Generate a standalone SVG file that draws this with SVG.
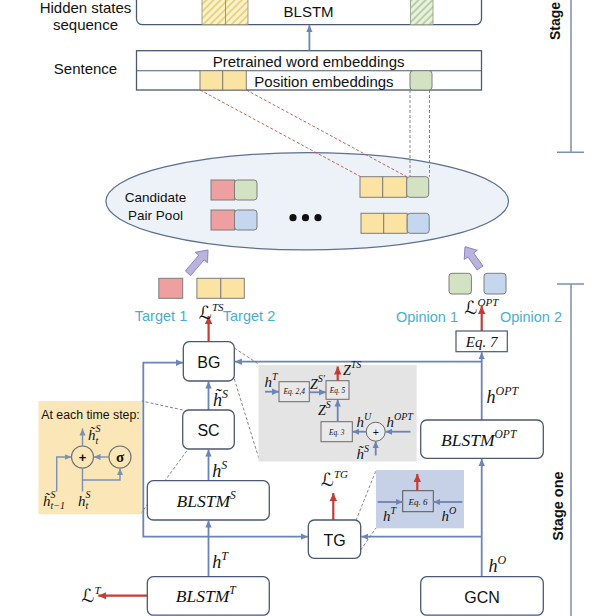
<svg xmlns="http://www.w3.org/2000/svg" width="615" height="616" viewBox="0 0 615 616">
<defs>
<style>
.box{fill:#fff;stroke:#4b5872;stroke-width:1.3}
.lbl{font-family:"Liberation Sans",Arial,sans-serif;fill:#111}
.m{font-family:"Liberation Serif","DejaVu Serif",serif;font-style:italic;fill:#111}
.cal{font-family:"DejaVu Serif","DejaVu Sans",serif;font-style:italic}
.con{fill:none;stroke:#6b84b6;stroke-width:1.8}
.thin{fill:none;stroke:#7f8fb2;stroke-width:1.4}
.red{fill:none;stroke:#c43d35;stroke-width:2.2}
.cell{stroke:#7d7d7d;stroke-width:1}
.cy{fill:#fbe4a3}
.cr{fill:#ee9f9f}
.cg{fill:#d3e2c3}
.cb{fill:#c4d7ef}
.dash{fill:none;stroke:#777;stroke-width:0.9;stroke-dasharray:3 2}
.rdash{fill:none;stroke:#c0504d;stroke-width:0.9;stroke-dasharray:3 2}
.tg{font-family:"Liberation Sans",Arial,sans-serif;fill:#4aaed0;font-size:14.5px}
.eqb{fill:#e9e9e9;stroke:#6a6a6a;stroke-width:1}
.stage{fill:none;stroke:#7d8fb5;stroke-width:1.5}
</style>
<marker id="ab" markerUnits="userSpaceOnUse" markerWidth="8" markerHeight="8" refX="7" refY="4" orient="auto"><path d="M0,0.8 L7,4 L0,7.2 Z" fill="#6b84b6"/></marker>
<marker id="ag" markerUnits="userSpaceOnUse" markerWidth="8" markerHeight="8" refX="7" refY="4" orient="auto"><path d="M0,1 L7,4 L0,7 Z" fill="#7f8fb2"/></marker>
<marker id="ar" markerUnits="userSpaceOnUse" markerWidth="9" markerHeight="9" refX="8" refY="4.5" orient="auto"><path d="M0,0.8 L8,4.5 L0,8.2 Z" fill="#c43d35"/></marker>
<pattern id="hy" patternUnits="userSpaceOnUse" width="5" height="5" patternTransform="rotate(45)"><rect width="5" height="5" fill="#fdf2cc"/><line x1="1" y1="0" x2="1" y2="5" stroke="#e0c25a" stroke-width="1.3"/></pattern>
<pattern id="hg" patternUnits="userSpaceOnUse" width="5" height="5" patternTransform="rotate(45)"><rect width="5" height="5" fill="#e9f1e0"/><line x1="1" y1="0" x2="1" y2="5" stroke="#9fbf85" stroke-width="1.3"/></pattern>
</defs>

<!-- stage markers -->
<g id="stage-two">
<path class="stage" d="M571,0 V152.3 M557,152.3 H584"/>
<text class="lbl" font-size="14" font-weight="bold" transform="translate(560,40) rotate(-90)">Stage</text>
</g>
<g id="stage-one">
<path class="stage" d="M571,616 V284 M557,284 H584"/>
<text class="lbl" font-size="14.5" font-weight="bold" text-anchor="middle" transform="translate(563,506) rotate(-90)">Stage one</text>
</g>

<!-- top labels -->
<g id="label-hidden">
<text class="lbl" x="85.5" y="12.5" font-size="15" text-anchor="middle">Hidden states</text>
<text class="lbl" x="85.5" y="30" font-size="15" text-anchor="middle">sequence</text>
</g>
<g id="label-sentence">
<text class="lbl" x="85.5" y="74" font-size="15" text-anchor="middle">Sentence</text>
</g>

<g id="blstm-top">
<rect class="box" x="136.5" y="-12" width="345" height="36.7" rx="6"/>
<rect x="202" y="-12" width="23.5" height="36.7" fill="url(#hy)" stroke="#8a8a70" stroke-width="0.8"/>
<rect x="225.5" y="-12" width="22.5" height="36.7" fill="url(#hy)" stroke="#8a8a70" stroke-width="0.8"/>
<rect x="410.6" y="-12" width="22.4" height="36.7" fill="url(#hg)" stroke="#8a9a80" stroke-width="0.8"/>
<text class="lbl" x="308.6" y="16.5" font-size="15" text-anchor="middle">BLSTM</text>
</g>

<g id="sentence">
<rect class="box" x="136.5" y="50.7" width="345" height="39.3"/>
<line x1="136.5" y1="70.7" x2="481.5" y2="70.7" stroke="#4b5872" stroke-width="1.1"/>
<rect class="cell cy" x="200" y="70.7" width="22.7" height="19.3"/>
<rect class="cell cy" x="222.7" y="70.7" width="23.6" height="19.3"/>
<rect class="cell cg" x="410" y="70.7" width="22" height="19.3" rx="3"/>
<text class="lbl" x="308.6" y="66.5" font-size="15" text-anchor="middle">Pretrained word embeddings</text>
<text class="lbl" x="324" y="87" font-size="15" text-anchor="middle">Position embeddings</text>
</g>

<g id="pool">
<ellipse cx="307.2" cy="201.3" rx="201.3" ry="48.6" fill="#edf1f8" stroke="#5f6f8f" stroke-width="1.2"/>
<text class="lbl" x="155.5" y="202" font-size="13.5" text-anchor="middle">Candidate</text>
<text class="lbl" x="155.5" y="220" font-size="13.5" text-anchor="middle">Pair Pool</text>
<rect class="cell cr" x="211" y="180" width="23.5" height="20"/>
<rect class="cell cg" x="234.5" y="180" width="22.5" height="20" rx="3"/>
<rect class="cell cr" x="211" y="210" width="23.5" height="20"/>
<rect class="cell cb" x="234.5" y="210" width="22.5" height="20" rx="3"/>
<circle cx="293" cy="217.7" r="3.6" fill="#111"/>
<circle cx="305.5" cy="217.7" r="3.6" fill="#111"/>
<circle cx="318" cy="217.7" r="3.6" fill="#111"/>
<rect class="cell cy" x="360" y="176.7" width="22.7" height="20.6"/>
<rect class="cell cy" x="382.7" y="176.7" width="24" height="20.6"/>
<rect class="cell cg" x="406.7" y="176.7" width="22" height="20.6" rx="3"/>
<rect class="cell cy" x="361" y="213.3" width="22.7" height="20"/>
<rect class="cell cy" x="383.7" y="213.3" width="23.5" height="20"/>
<rect class="cell cb" x="407.2" y="213.3" width="22" height="20" rx="3"/>
</g>

<g id="targets">
<rect class="cell cr" x="158.8" y="278.3" width="23.9" height="20"/>
<rect class="cell cy" x="196.9" y="278.3" width="23.9" height="20"/>
<rect class="cell cy" x="220.8" y="278.3" width="23.5" height="20"/>
<text class="tg" x="161" y="321" text-anchor="middle">Target 1</text>
<text class="tg" x="249" y="321" text-anchor="middle">Target 2</text>
<polygon points="190.6,275.6 204.1,259.8 207.5,262.8 208,250 195.4,252.3 198.8,255.2 185.4,271" fill="#b9b3dd" stroke="#8a86b8" stroke-width="1"/>
</g>

<g id="opinions">
<rect class="cell cg" x="449" y="273.3" width="22.4" height="20.7" rx="3"/>
<rect class="cell cb" x="484" y="273.3" width="22" height="20.7" rx="3"/>
<text class="tg" x="427" y="322" text-anchor="middle">Opinion 1</text>
<text class="tg" x="531" y="322" text-anchor="middle">Opinion 2</text>
<polygon points="482.9,266 473.6,252.9 477.3,250.3 465,246.7 464.2,259.5 467.9,256.9 477.1,270" fill="#b9b3dd" stroke="#8a86b8" stroke-width="1"/>
</g>

<!-- connectors -->
<g id="connectors">
<path class="con" d="M309.4,50.7 V25.2" marker-end="url(#ab)"/>
<path class="rdash" d="M200,90 L360.8,176.7 M246.3,90 L406.7,176.7"/>
<path class="dash" d="M410,90 V176.7 M429.5,90 V176.7"/>
<path class="con" d="M208.5,576.7 V520.6" marker-end="url(#ab)"/>
<path class="con" d="M208.5,536.7 H307.8" marker-end="url(#ab)"/>
<path class="con" d="M208.5,536.7 H143.3 V362.7 H183" marker-end="url(#ab)"/>
<path class="con" d="M208.5,480.7 V449.6" marker-end="url(#ab)"/>
<path class="con" d="M208.5,410 V381.6" marker-end="url(#ab)"/>
<path class="con" d="M481.7,576.7 V459" marker-end="url(#ab)"/>
<path class="con" d="M481.7,536.7 H361.3" marker-end="url(#ab)"/>
<path class="con" d="M481.7,420 V352.3" marker-end="url(#ab)"/>
<path class="con" d="M481.7,361.7 H234.9" marker-end="url(#ab)"/>
<path class="red" d="M208.6,341.7 V316" marker-end="url(#ar)"/>
<path class="red" d="M481.7,331 V306" marker-end="url(#ar)"/>
<path class="red" d="M333.3,520 V493" marker-end="url(#ar)"/>
<path class="red" d="M147.3,595.7 H98.3" marker-end="url(#ar)"/>
<path class="dash" d="M234.3,348 L258.5,364 M234.3,379 L259.5,460.5"/>
<path class="dash" d="M182.7,410 L141.7,401 M186.7,451 L140.5,514"/>
<path class="dash" d="M356,520.5 L376,470.5 M360.7,550 L376,528"/>
</g>

<!-- connector labels -->
<g id="edge-labels">
<text class="m" x="199" y="319" font-size="18"><tspan class="cal">ℒ</tspan><tspan font-size="11" dy="-8">TS</tspan></text>
<text class="m" x="464.5" y="313.5" font-size="18"><tspan class="cal">ℒ</tspan><tspan font-size="11" dy="-8">OPT</tspan></text>
<text class="m" x="321" y="486" font-size="18"><tspan class="cal">ℒ</tspan><tspan font-size="11" dy="-8">TG</tspan></text>
<text class="m" x="81.5" y="602" font-size="18"><tspan class="cal">ℒ</tspan><tspan font-size="11" dy="-8">T</tspan></text>
<text class="m" x="213" y="406" font-size="18">h&#x303;<tspan font-size="12" dy="-8">S</tspan></text>
<text class="m" x="212.3" y="477" font-size="18">h<tspan font-size="12" dy="-8">S</tspan></text>
<text class="m" x="212.3" y="568.3" font-size="18">h<tspan font-size="12" dy="-8">T</tspan></text>
<text class="m" x="488.5" y="571.7" font-size="18">h<tspan font-size="12" dy="-8">O</tspan></text>
<text class="m" x="486.5" y="403.3" font-size="18">h<tspan font-size="12" dy="-8">OPT</tspan></text>
</g>

<g id="BG">
<rect class="box" x="183.3" y="341.7" width="51" height="39.3" rx="6"/>
<text class="lbl" x="208.8" y="368.3" font-size="16" text-anchor="middle">BG</text>
</g>
<g id="SC">
<rect class="box" x="182.7" y="410" width="51.6" height="39" rx="6"/>
<text class="lbl" x="208.5" y="436" font-size="16" text-anchor="middle">SC</text>
</g>
<g id="TG">
<rect class="box" x="308.3" y="520" width="52.4" height="38.3" rx="6"/>
<text class="lbl" x="334.5" y="546" font-size="16" text-anchor="middle">TG</text>
</g>
<g id="GCN">
<rect class="box" x="420.7" y="576.7" width="122.6" height="38.5" rx="6"/>
<text class="lbl" x="482" y="602.5" font-size="16" text-anchor="middle">GCN</text>
</g>
<g id="BLSTM-S">
<rect class="box" x="147.3" y="480.7" width="122" height="39.3" rx="6"/>
<text class="m" x="206.2" y="506.7" font-size="17.5" text-anchor="middle">BLSTM<tspan font-size="11.5" dy="-8">S</tspan></text>
</g>
<g id="BLSTM-T">
<rect class="box" x="147.3" y="576.7" width="122" height="38.5" rx="6"/>
<text class="m" x="205.8" y="601.7" font-size="17.5" text-anchor="middle">BLSTM<tspan font-size="11.5" dy="-8">T</tspan></text>
</g>
<g id="BLSTM-OPT">
<rect class="box" x="420.7" y="420" width="122.6" height="38.3" rx="6"/>
<text class="m" x="478.7" y="446" font-size="17.5" text-anchor="middle">BLSTM<tspan font-size="11.5" dy="-8">OPT</tspan></text>
</g>
<g id="Eq7">
<rect x="456" y="331" width="51.3" height="20.7" fill="#fff" stroke="#4b5872" stroke-width="1.2"/>
<text class="m" x="481.7" y="346.7" font-size="15" text-anchor="middle">Eq. 7</text>
</g>

<!-- SC detail -->
<g id="sc-detail">
<rect x="38.5" y="401" width="103.2" height="113.3" fill="#fae6b6"/>
<text class="lbl" x="90.5" y="419" font-size="12.3" text-anchor="middle">At each time step:</text>
<circle cx="82.5" cy="457" r="11" fill="#fae6b6" stroke="#6e6e6e" stroke-width="1.1"/>
<text class="lbl" x="82.5" y="461.5" font-size="13" font-weight="bold" text-anchor="middle">+</text>
<circle cx="120" cy="457" r="11" fill="#fae6b6" stroke="#6e6e6e" stroke-width="1.1"/>
<text x="120" y="461.5" font-family="Liberation Serif, serif" font-size="15" font-weight="bold" text-anchor="middle" fill="#111">σ</text>
<path class="thin" d="M82.5,446 V428.5" marker-end="url(#ag)"/>
<path class="thin" d="M109,457 H93.5" marker-end="url(#ag)"/>
<path class="thin" d="M56.7,491.5 V457 H71.5" marker-end="url(#ag)"/>
<path class="thin" d="M82.5,468 V491.5 M82.5,480 H120 V468.2" marker-end="url(#ag)"/>
<text class="m" x="88" y="440" font-size="15">h&#x303;</text>
<text class="m" x="95.5" y="432" font-size="10">S</text>
<text class="m" x="95.5" y="443.5" font-size="10">t</text>
<text class="m" x="43" y="505.5" font-size="15">h&#x303;</text>
<text class="m" x="50.5" y="497.5" font-size="10">S</text>
<text class="m" x="50.5" y="509" font-size="10">t−1</text>
<text class="m" x="78" y="505.5" font-size="15">h</text>
<text class="m" x="85.5" y="497.5" font-size="10">S</text>
<text class="m" x="85.5" y="509" font-size="10">t</text>
</g>

<!-- BG detail -->
<g id="bg-detail">
<rect x="258.5" y="365" width="158.2" height="96.5" fill="#e4e4e4"/>
<rect class="eqb" x="279" y="381.7" width="30.3" height="20"/>
<text class="m" x="294.2" y="394" font-size="7.5" text-anchor="middle">Eq. 2,4</text>
<rect class="eqb" x="326" y="380.7" width="23" height="18.6"/>
<text class="m" x="337.5" y="393" font-size="7.3" text-anchor="middle">Eq. 5</text>
<rect class="eqb" x="321" y="421.7" width="31.3" height="20"/>
<text class="m" x="336.7" y="434.5" font-size="7.3" text-anchor="middle">Eq. 3</text>
<circle cx="375.7" cy="431.7" r="9.5" fill="#ececec" stroke="#666" stroke-width="1"/>
<text class="lbl" x="375.7" y="435.5" font-size="10.5" text-anchor="middle">+</text>
<path class="con" d="M265,391.7 H279" marker-end="url(#ab)"/>
<path class="con" d="M309.3,392.3 H326" marker-end="url(#ab)"/>
<path class="con" d="M337.7,421.7 V399.5" marker-end="url(#ab)"/>
<path class="con" d="M366.2,431.7 H352.4" marker-end="url(#ab)"/>
<path class="con" d="M410.5,431.7 H385.3" marker-end="url(#ab)"/>
<path class="con" d="M375.7,455.5 V441.3" marker-end="url(#ab)"/>
<path class="red" d="M337.7,380.7 V366.5" marker-end="url(#ar)"/>
<text class="m" x="264.5" y="387" font-size="15">h<tspan font-size="10" dy="-7">T</tspan></text>
<text class="m" x="310" y="388.5" font-size="14">Z<tspan font-size="10" dy="-7">S′</tspan></text>
<text class="m" x="343" y="375" font-size="14">Z<tspan font-size="10" dy="-7">TS</tspan></text>
<text class="m" x="318" y="415" font-size="14">Z<tspan font-size="10" dy="-7">S</tspan></text>
<text class="m" x="356.5" y="427" font-size="15">h<tspan font-size="10" dy="-7">U</tspan></text>
<text class="m" x="386.5" y="427" font-size="15">h<tspan font-size="10" dy="-7">OPT</tspan></text>
<text class="m" x="356.5" y="458.5" font-size="15">h&#x303;<tspan font-size="10" dy="-7">S</tspan></text>
</g>

<!-- TG detail -->
<g id="tg-detail">
<rect x="376" y="470" width="88" height="58.3" fill="#c6d0e7"/>
<rect x="402.7" y="490.7" width="30.6" height="21" fill="none" stroke="#555" stroke-width="1"/>
<text class="m" x="418" y="504.5" font-size="9" text-anchor="middle">Eq. 6</text>
<path class="con" d="M377.7,502 H402.7" marker-end="url(#ab)"/>
<path class="con" d="M462.3,502 H433.3" marker-end="url(#ab)"/>
<path class="red" d="M417.3,490.7 V474" marker-end="url(#ar)"/>
<text class="m" x="383" y="520.5" font-size="15">h<tspan font-size="10" dy="-7">T</tspan></text>
<text class="m" x="441.5" y="520.5" font-size="15">h<tspan font-size="10" dy="-7">O</tspan></text>
</g>
</svg>
